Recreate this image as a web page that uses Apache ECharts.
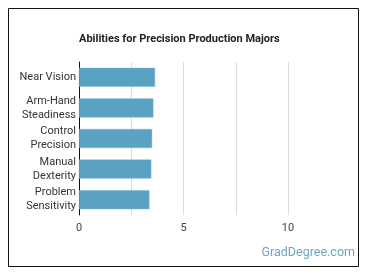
<!DOCTYPE html>
<html>
<head>
<meta charset="utf-8">
<script src="https://cdn.jsdelivr.net/npm/echarts@6/dist/echarts.min.js"></script>
<style>
html, body { margin: 0; padding: 0; background: #fff; }
#chart { width: 370px; height: 278px; }
</style>
</head>
<body>
<div id="chart"></div>
<script>
// data
var categories = ['Near Vision', 'Arm-Hand\nSteadiness', 'Control\nPrecision', 'Manual\nDexterity', 'Problem\nSensitivity'];
var scores = [3.64, 3.56, 3.5, 3.46, 3.37];
var tickLabels = ['0', '5', '10'];

var myChart = echarts.init(document.getElementById('chart'));

var option = {
	animation: false,
	title: {
		text: 'Abilities for Precision Production Majors',
		left: 74,
		top: 29,
		textStyle: {
			fontFamily: 'Roboto',
			fontSize: 11,
			fontWeight: 'bold',
			color: '#222'
		}
	},
	graphic: [
		{
			type: 'rect',
			shape: { x: 8.5, y: 8.5, width: 350, height: 258 },
			style: { fill: 'none', stroke: '#111', lineWidth: 1 }
		},
		{
			type: 'text',
			right: 15,
			top: 246,
			style: {
				text: 'GradDegree.com',
				fill: '#6fa5c0',
				font: '12.5px Roboto'
			}
		}
	],
	grid: {
		left: 79,
		right: 82,
		top: 62,
		bottom: 63
	},
	xAxis: {
		type: 'value',
		min: 0,
		max: 10,
		interval: 2.5,
		axisLine: { show: false },
		axisTick: { show: false },
		axisLabel: {
			color: '#444',
			fontFamily: 'Roboto',
			fontSize: 11,
			margin: 8,
			formatter: function (v) {
				var s = String(v);
				return tickLabels.indexOf(s) >= 0 ? s : '';
			}
		},
		splitLine: {
			show: true,
			lineStyle: { color: '#dcdcdc', width: 1 }
		}
	},
	yAxis: {
		type: 'category',
		inverse: true,
		data: categories,
		axisLine: { show: true, lineStyle: { color: '#111', width: 1 } },
		axisTick: { show: false },
		axisLabel: {
			color: '#333',
			fontFamily: 'Roboto',
			fontSize: 11,
			lineHeight: 14,
			margin: 3,
			align: 'right'
		}
	},
	series: [
		{
			type: 'bar',
			data: scores,
			barWidth: '62%',
			itemStyle: {
				color: '#5aa2c1',
				borderColor: '#78b5cf',
				borderWidth: 0.5
			}
		}
	]
};

myChart.setOption(option);
</script>
</body>
</html>
